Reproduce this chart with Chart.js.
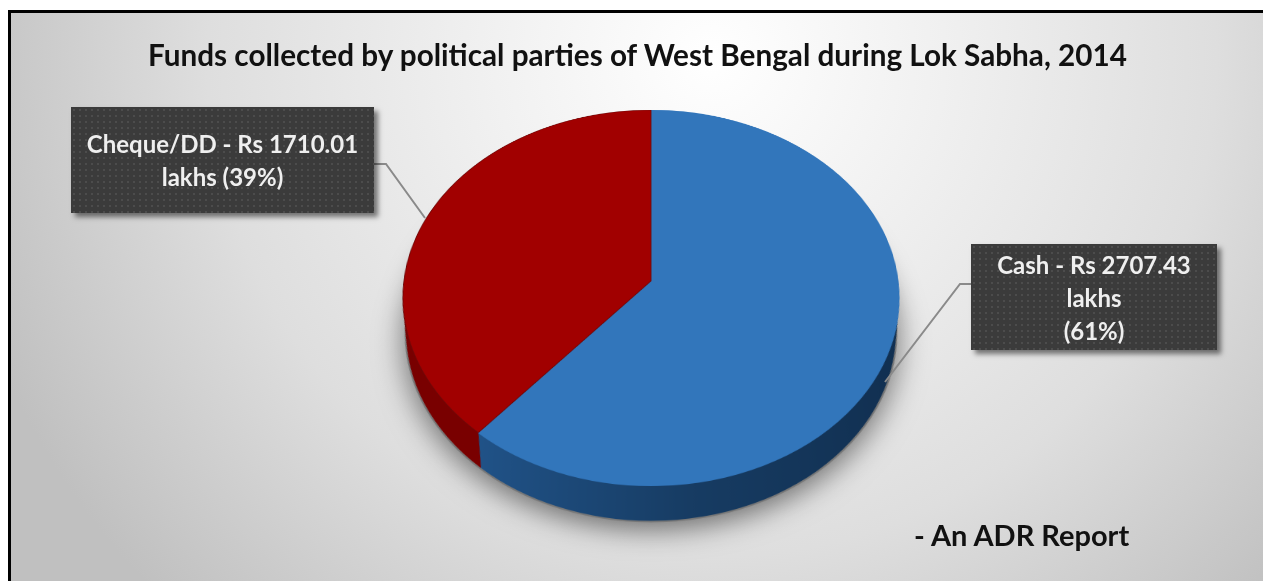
<!DOCTYPE html>
<html>
<head>
<meta charset="utf-8">
<script src="https://cdn.jsdelivr.net/npm/chart.js@4"></script>
<style>
html,body{margin:0;padding:0;background:#fff;}
#page{position:relative;width:1263px;height:581px;overflow:hidden;font-family:Lato,"Open Sans",sans-serif;font-weight:700;}
#panel{position:absolute;left:8px;top:10px;right:0;bottom:0;border-left:3px solid #000;border-top:3px solid #000;
  background:radial-gradient(ellipse 62% 135% at 56% 8%,#fff 0%,#f0f0f0 30%,#dedede 65%,#c0c0c0 100%);}
/* pie is a flat circle, tilted into the picture with a perspective matrix */
#tilt{position:absolute;left:251px;top:-119px;width:800px;height:800px;transform-origin:400px 400px;
  transform:matrix3d(.825,0,0,0, 0,.622,0,-.000301, 0,0,1,0, 0,0,0,1);}
#lines{position:absolute;left:0;top:0;}
.txt{position:absolute;white-space:nowrap;color:#111;}
#title{left:148px;top:37px;font-size:29.7px;line-height:36px;}
#foot{left:914px;top:516px;font-size:29px;line-height:38px;}
.box{position:absolute;box-sizing:border-box;display:flex;flex-direction:column;justify-content:center;align-items:center;
  color:#efefef;font-size:24px;line-height:33px;background-color:#3b3b3b;
  background-image:radial-gradient(circle,#4c4c4c 1px,transparent 1.2px);background-size:6px 6px;
  box-shadow:4px 4px 5px rgba(0,0,0,.5);}
</style>
</head>
<body>
<div id="page">
  <div id="panel"></div>
  <div id="tilt"><canvas id="pie"></canvas></div>
  <svg id="lines" width="1263" height="581">
    <polyline points="374,164 386,164 425,218" fill="none" stroke="#8a8a8a" stroke-width="2"/>
    <polyline points="971,284 960,284 885,382" fill="none" stroke="#8a8a8a" stroke-width="2"/>
  </svg>
  <div class="txt" id="title"></div>
  <div class="box" id="boxCheque" style="left:71px;top:107px;width:303px;height:106px"></div>
  <div class="box" id="boxCash" style="left:971px;top:244px;width:246px;height:106px"></div>
  <div class="txt" id="foot"></div>
</div>
<script>
const titleText = 'Funds collected by political parties of West Bengal during Lok Sabha, 2014';
const footText  = '- An ADR Report';

const categories = ['Cash','Cheque/DD'];
const lakhs      = [2707.43,1710.01];
const topColors  = ['#3276bb','#a10000'];
const lineColors = ['#3276bb','#6e0808'];

const chequeLines = ['Cheque/DD - Rs 1710.01','lakhs (39%)'];
const cashLines   = ['Cash - Rs 2707.43','lakhs','(61%)'];

document.getElementById('title').textContent = titleText;
document.getElementById('foot').textContent  = footText;
function fillBox(id,lines){
  const b=document.getElementById(id);
  lines.forEach(t=>{const d=document.createElement('div');d.textContent=t;b.appendChild(d);});
}
fillBox('boxCheque',chequeLines);
fillBox('boxCash',cashLines);

// side wall + soft shadow, drawn under the top face from the arcs chart.js laid out
const DEPTH = 55;
const SHRINK = .03;   // wall narrows a little going down, as in the perspective of the original
const pieSide = {
  id:'pieSide',
  beforeDatasetsDraw(chart){
    const ctx = chart.ctx, arcs = chart.getDatasetMeta(0).data;
    const cx = arcs[0].x, cy = arcs[0].y, r = arcs[0].outerRadius;
    const dpr = chart.currentDevicePixelRatio;

    ctx.save();
    ctx.shadowColor = 'rgba(0,0,0,.5)';
    ctx.shadowBlur = 34*dpr;
    ctx.shadowOffsetY = 10*dpr;
    ctx.fillStyle = '#777';
    ctx.beginPath();
    ctx.arc(cx,cy+DEPTH,r*(1-SHRINK)+2,0,Math.PI*2);
    ctx.fill();
    ctx.restore();

    const blue = ctx.createLinearGradient(cx-r*.7,0,cx+r,0);
    blue.addColorStop(0,'#21548a');
    blue.addColorStop(.5,'#173c63');
    blue.addColorStop(1,'#112f50');
    const fills = [blue,'#7a0000'];

    // red wall first so the blue wall keeps a straight seam at the front
    ctx.save();
    [1,0].forEach(i=>{
      const a = arcs[i];
      ctx.fillStyle = fills[i];
      for(let o=DEPTH;o>0;o--){
        ctx.beginPath();
        ctx.moveTo(a.x,a.y+o);
        ctx.arc(a.x,a.y+o,a.outerRadius*(1-SHRINK*o/DEPTH),a.startAngle,a.endAngle);
        ctx.closePath();
        ctx.fill();
      }
    });
    ctx.restore();
  }
};

const cv = document.getElementById('pie');
cv.style.width='800px'; cv.style.height='800px';
new Chart(cv.getContext('2d'),{
  type:'pie',
  plugins:[pieSide],
  data:{
    labels:categories,
    datasets:[{data:lakhs,backgroundColor:topColors,borderColor:lineColors,borderWidth:1}]
  },
  options:{
    responsive:false,
    devicePixelRatio:2,
    animation:false,
    layout:{padding:100},
    plugins:{legend:{display:false},tooltip:{enabled:false}}
  }
});
</script>
</body>
</html>
